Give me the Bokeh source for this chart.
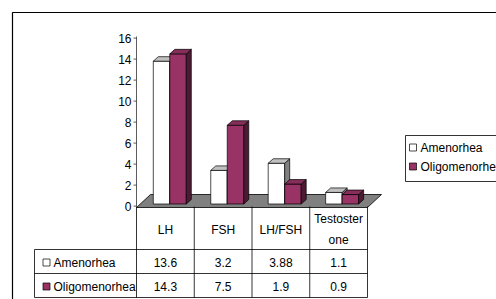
from bokeh.plotting import figure
from bokeh.models import Range1d
from bokeh.core.properties import value
from bokeh.embed import file_html
from bokeh.resources import INLINE

# ---- data ----
categories = ["LH", "FSH", "LH/FSH", "Testosterone"]
header_labels = ["LH", "FSH", "LH/FSH", "Testoster\none"]
series_names = ["Amenorhea", "Oligomenorhea"]
amenorhea = [13.6, 3.2, 3.88, 1.1]
oligomenorhea = [14.3, 7.5, 1.9, 0.9]
y_ticks = [0, 2, 4, 6, 8, 10, 12, 14, 16]

# ---- layout constants (image pixels) ----
Y0 = 203.5      # pixel row of value 0 on the bar front plane
PX = 10.5       # pixels per value unit
W, H = 496, 299


def Y(px):
    return (Y0 - px) / PX


FONT = value("Liberation Sans")
p = figure(width=W, height=H, output_backend="svg", toolbar_location=None,
           x_range=Range1d(0, W), y_range=Range1d(Y(H), Y(0)),
           x_axis_type=None, y_axis_type=None, min_border=0,
           outline_line_color=None, background_fill_color="white",
           border_fill_color="white")
p.xgrid.visible = False
p.ygrid.visible = False

# outer border
p.line([12, 12, 500], [Y(310), Y(12), Y(12)], line_color="black", line_width=1.2)

# floor
p.patch([136, 367, 381, 150], [Y(207), Y(207), Y(194), Y(194)],
        fill_color="#808080", line_color="black", line_width=0.8)

# bars
GX0 = 152.8
GW = 57.45
BW = 16.5
DX = 5.0
DY = 4.5 / PX
n = len(categories)


def draw_series(vals, offset, front, top, side):
    lefts = [GX0 + i * GW + offset for i in range(n)]
    rights = [l + BW for l in lefts]
    p.quad(left=lefts, right=rights, bottom=[0] * n, top=vals,
           fill_color=front, line_color="black", line_width=0.7)
    side_xs = [[r, r + DX, r + DX, r] for r in rights]
    side_ys = [[0, DY, v + DY, v] for v in vals]
    p.patches(side_xs, side_ys, fill_color=side, line_color="black", line_width=0.7)
    top_xs = [[l, l + DX, r + DX, r] for l, r in zip(lefts, rights)]
    top_ys = [[v, v + DY, v + DY, v] for v in vals]
    p.patches(top_xs, top_ys, fill_color=top, line_color="black", line_width=0.7)


draw_series(amenorhea, 0, "#ffffff", "#c0c0c0", "#808080")
draw_series(oligomenorhea, BW, "#993366", "#862d59", "#4d1a33")

# y axis
tick_y = [t - 0.2 for t in y_ticks]
p.line([136, 136], [Y(206), Y(36)], line_color="#333333", line_width=0.8)
p.segment(x0=[133] * len(y_ticks), y0=tick_y, x1=[136] * len(y_ticks), y1=tick_y,
          line_color="#333333", line_width=0.8)
p.text(x=[131] * len(y_ticks), y=tick_y, text=[str(t) for t in y_ticks],
       text_font=FONT, text_font_size="12px", text_align="right",
       text_baseline="middle", text_color="black")

# data table
cols = [136 + 57.75 * i for i in range(n + 1)]
centers = [(cols[i] + cols[i + 1]) / 2 for i in range(n)]
row_y = [262, 286]

hl_x0, hl_x1, hl_y = [], [], []
for yy in [249, 273, 297]:
    hl_x0.append(34); hl_x1.append(367); hl_y.append(Y(yy))
p.segment(x0=hl_x0, y0=hl_y, x1=hl_x1, y1=hl_y, line_color="black", line_width=0.8)
vx = [34] + cols
vtop = [249] + [206] * (n + 1)
p.segment(x0=vx, y0=[Y(t) for t in vtop], x1=vx, y1=[Y(297)] * len(vx),
          line_color="black", line_width=0.8)

# header labels (split multi-line)
hx, hy, ht = [], [], []
for c, lab in zip(centers, header_labels):
    parts = lab.split("\n")
    if len(parts) == 1:
        hx.append(c); hy.append(Y(229)); ht.append(parts[0])
    else:
        hx += [c, c]; hy += [Y(218), Y(239)]; ht += parts
p.text(x=hx, y=hy, text=ht, text_font=FONT, text_font_size="12px",
       text_align="center", text_baseline="middle", text_color="black")

# values
for ry, vals in zip(row_y, [amenorhea, oligomenorhea]):
    p.text(x=centers, y=[Y(ry)] * n, text=[str(v) for v in vals], text_font=FONT,
           text_font_size="12px", text_align="center", text_baseline="middle",
           text_color="black")

# row legend keys
p.scatter(x=[46, 46], y=[Y(r) for r in row_y], marker="square", size=7,
          fill_color=["#ffffff", "#993366"], line_color="black", line_width=0.7)
p.text(x=[53, 53], y=[Y(r) for r in row_y], text=series_names, text_font=FONT,
       text_font_size="12px", text_align="left", text_baseline="middle",
       text_color="black")

# right legend
p.line([510, 405, 405, 510], [Y(135), Y(135), Y(181), Y(181)],
       line_color="black", line_width=0.8)
leg_y = [147, 166]
p.scatter(x=[412.5, 412.5], y=[Y(r) for r in leg_y], marker="square", size=7,
          fill_color=["#ffffff", "#993366"], line_color="black", line_width=0.7)
p.text(x=[420, 420], y=[Y(r) for r in leg_y], text=series_names, text_font=FONT,
       text_font_size="12px", text_align="left", text_baseline="middle",
       text_color="black")

open("out.html", "w").write(file_html(p, INLINE))
